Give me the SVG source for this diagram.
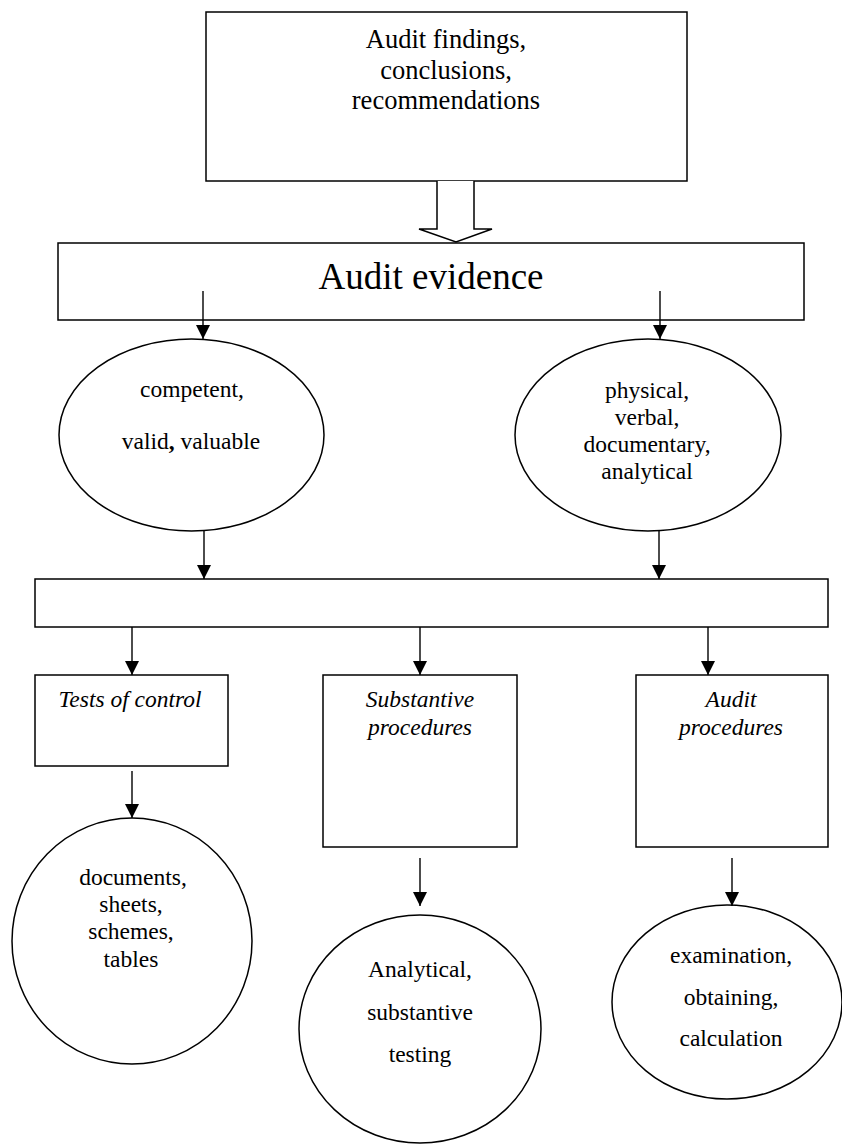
<svg xmlns="http://www.w3.org/2000/svg" width="842" height="1144" viewBox="0 0 842 1144" font-family="Liberation Serif, Times New Roman, serif">
<style>
.box{fill:#fff;stroke:#000;stroke-width:1.5}
.el{fill:#fff;stroke:#000;stroke-width:1.5}
.t{font-family:'Liberation Serif','Times New Roman',serif;font-size:23.5px;fill:#000;text-anchor:middle}
.ti{font-family:'Liberation Serif','Times New Roman',serif;font-size:23.5px;font-style:italic;fill:#000;text-anchor:middle}
.con line{stroke:#000;stroke-width:1.4}
</style>
<defs>
<marker id="ah" markerUnits="userSpaceOnUse" markerWidth="14" markerHeight="15" refX="14" refY="7" orient="auto" viewBox="0 0 14 14">
<path d="M0,0 L14,7 L0,14 z" fill="#000"/>
</marker>
</defs>
<rect width="842" height="1144" fill="#fff"/>

<g id="findings">
<rect class="box" x="206" y="12" width="481" height="169"/>
<text class="t" style="font-size:26.5px" x="446" y="48">Audit findings,</text>
<text class="t" style="font-size:26.5px" x="446" y="79">conclusions,</text>
<text class="t" style="font-size:26.5px" x="446" y="109">recommendations</text>
</g>

<g id="evidence">
<rect class="box" x="58" y="243" width="746" height="77"/>
<text class="t" style="font-size:37px" x="431" y="289">Audit evidence</text>
</g>

<g id="qualities">
<ellipse class="el" cx="191.5" cy="435" rx="132.5" ry="96"/>
<text class="t" x="192" y="397">competent,</text>
<text class="t" x="191" y="449">valid<tspan font-weight="bold">,</tspan> valuable</text>
</g>

<g id="types">
<ellipse class="el" cx="648" cy="435" rx="133" ry="96"/>
<text class="t" x="647" y="398">physical,</text>
<text class="t" x="647" y="425">verbal,</text>
<text class="t" x="647" y="452">documentary,</text>
<text class="t" x="647" y="479">analytical</text>
</g>

<g id="middle">
<rect class="box" x="35" y="579" width="793" height="48"/>
</g>

<g id="tests">
<rect class="box" x="35" y="675" width="193" height="91"/>
<text class="ti" x="130" y="707">Tests of control</text>
</g>

<g id="substantive">
<rect class="box" x="323" y="675" width="194" height="172"/>
<text class="ti" x="420" y="707">Substantive</text>
<text class="ti" x="420" y="735">procedures</text>
</g>

<g id="auditproc">
<rect class="box" x="636" y="675" width="192" height="172"/>
<text class="ti" x="731" y="707">Audit</text>
<text class="ti" x="731" y="735">procedures</text>
</g>

<g id="documents">
<ellipse class="el" cx="132" cy="941" rx="120" ry="123"/>
<text class="t" x="133" y="885">documents,</text>
<text class="t" x="131" y="912">sheets,</text>
<text class="t" x="131" y="939">schemes,</text>
<text class="t" x="131" y="967">tables</text>
</g>

<g id="analytical">
<ellipse class="el" cx="420" cy="1029" rx="121" ry="114"/>
<text class="t" x="420" y="977">Analytical,</text>
<text class="t" x="420" y="1020">substantive</text>
<text class="t" x="420" y="1062">testing</text>
</g>

<g id="examination">
<ellipse class="el" cx="727" cy="1002" rx="115" ry="97"/>
<text class="t" x="731" y="963">examination,</text>
<text class="t" x="731" y="1005">obtaining,</text>
<text class="t" x="731" y="1046">calculation</text>
</g>

<g id="connectors" class="con">
<path d="M437,181 L437,229 L419,229 L456,242 L492,229 L474,229 L474,181" fill="#fff" stroke="#000" stroke-width="1.5"/>
<line x1="203" y1="291" x2="203" y2="339" marker-end="url(#ah)"/>
<line x1="660" y1="291" x2="660" y2="339" marker-end="url(#ah)"/>
<line x1="204" y1="531" x2="204" y2="579" marker-end="url(#ah)"/>
<line x1="659" y1="531" x2="659" y2="579" marker-end="url(#ah)"/>
<line x1="132" y1="627" x2="132" y2="675" marker-end="url(#ah)"/>
<line x1="420" y1="627" x2="420" y2="675" marker-end="url(#ah)"/>
<line x1="708" y1="627" x2="708" y2="675" marker-end="url(#ah)"/>
<line x1="132" y1="771" x2="132" y2="818" marker-end="url(#ah)"/>
<line x1="420" y1="858" x2="420" y2="906" marker-end="url(#ah)"/>
<line x1="732" y1="858" x2="732" y2="906" marker-end="url(#ah)"/>
</g>
</svg>
